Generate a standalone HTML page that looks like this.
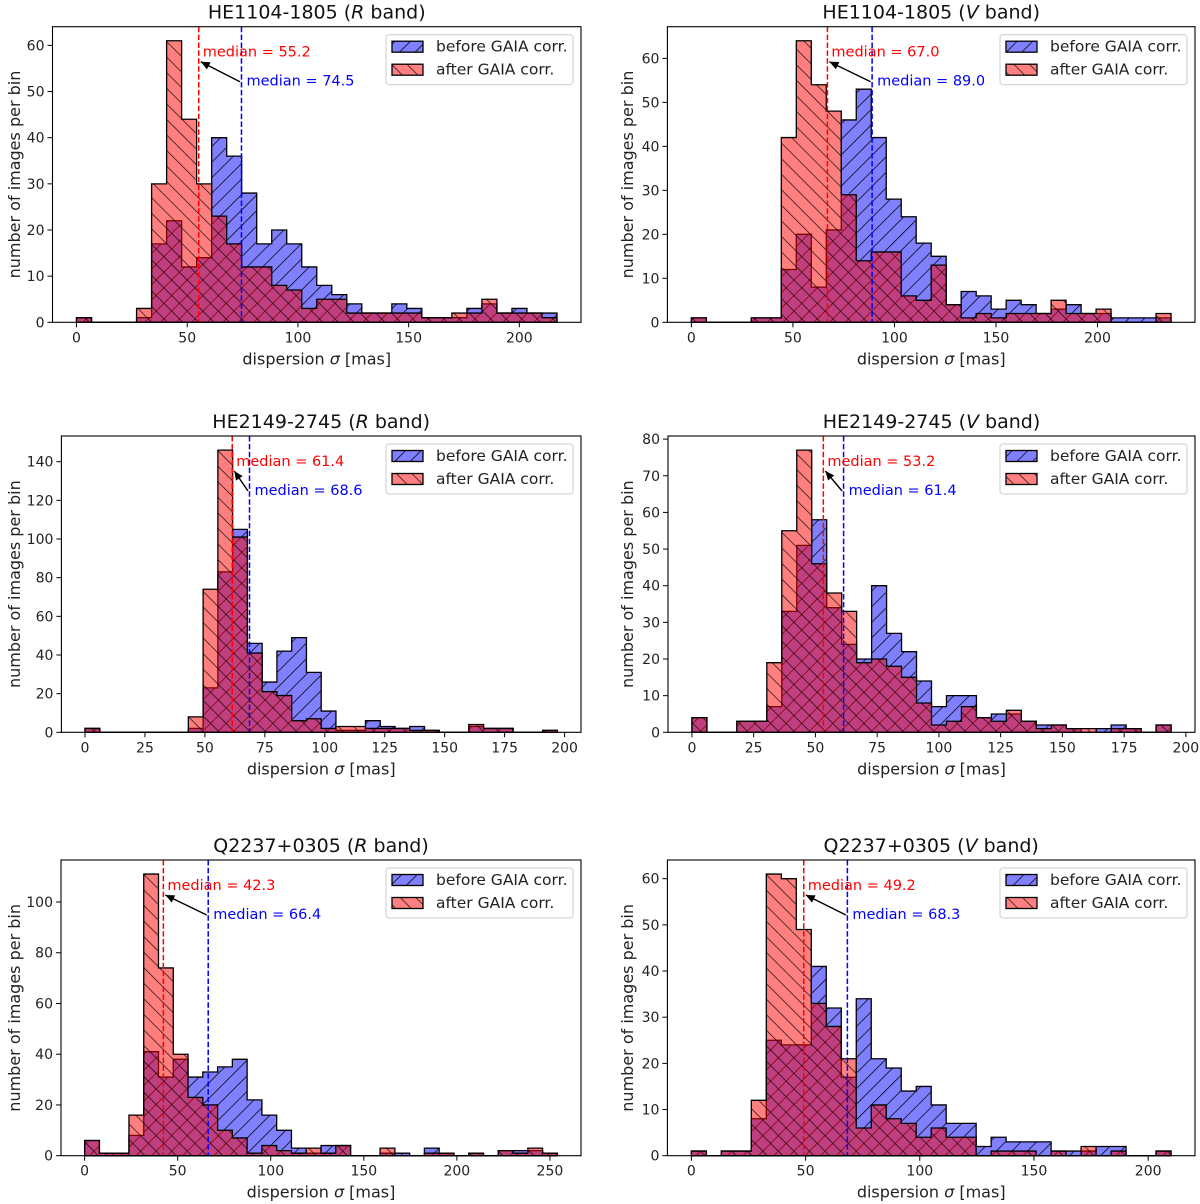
<!DOCTYPE html>
<html><head><meta charset="utf-8">
<style>
html,body{margin:0;padding:0;background:#fff;}
svg{display:block;font-family:"DejaVu Sans","Liberation Sans",sans-serif;}
</style></head>
<body>
<svg id="fig" width="1200" height="1204" viewBox="0 0 1200 1204" xmlns="http://www.w3.org/2000/svg">
<defs>
<pattern id="hatchF" patternUnits="userSpaceOnUse" width="11" height="11" patternTransform="rotate(45)">
<line x1="0" y1="0" x2="0" y2="11" stroke="#000" stroke-width="1.5"/>
</pattern>
<pattern id="hatchB" patternUnits="userSpaceOnUse" width="11" height="11" patternTransform="rotate(-45)">
<line x1="0" y1="0" x2="0" y2="11" stroke="#000" stroke-width="1.5" stroke-opacity="0.85"/>
</pattern>
</defs>
</svg>
<script>
// ---- data ----
const titles = ["HE1104-1805", "HE1104-1805", "HE2149-2745", "HE2149-2745", "Q2237+0305", "Q2237+0305"];
const bands = ["R", "V", "R", "V", "R", "V"];
const rangeMax = [217, 236.2, 197, 194, 254, 210];
const before1 = [1,0,0,0,1,17,22,12,14,40,36,28,17,20,17,12,8,6,4,2,2,4,3,1,1,1,3,4,2,3,2,2];
const after1  = [1,0,0,0,3,30,61,44,30,23,17,12,12,8,7,3,5,5,2,2,2,2,2,1,1,2,2,5,2,2,2,1];
const before2 = [1,0,0,0,1,1,12,20,8,21,46,53,42,28,24,18,15,4,7,6,3,5,4,2,3,4,2,2,1,1,1,1];
const after2  = [1,0,0,0,1,1,42,64,54,48,29,14,16,16,6,5,13,4,1,2,1,2,2,2,5,2,2,3,0,0,0,2];
const before3 = [2,0,0,0,0,0,0,2,23,83,105,46,26,42,49,31,11,1,1,6,3,2,3,1,0,0,3,2,2,0,0,1];
const after3  = [2,0,0,0,0,0,0,8,74,146,101,41,21,19,6,7,2,3,3,2,2,2,1,1,0,0,4,2,2,0,0,1];
const before4 = [4,0,0,3,3,7,33,51,58,34,24,20,40,27,22,14,7,10,10,4,5,5,3,2,2,1,0,1,2,1,0,2];
const after4  = [4,0,0,3,3,19,55,77,46,38,33,19,20,18,15,8,2,3,7,4,3,6,3,1,2,1,1,0,1,1,0,2];
const before5 = [6,1,1,8,41,31,38,31,33,35,38,22,16,10,3,1,4,4,0,0,1,1,0,3,1,0,1,0,2,2,2,1];
const after5  = [6,1,1,16,111,74,40,23,20,10,7,1,4,2,1,3,1,4,0,0,3,0,0,1,1,0,1,0,2,1,3,1];
const before6 = [1,0,1,1,8,25,24,24,41,32,17,34,21,19,14,15,11,7,7,2,4,3,3,3,1,1,1,2,2,0,0,1];
const after6  = [1,0,1,1,12,61,60,49,33,28,21,6,11,8,7,4,6,4,4,0,1,1,1,0,1,0,2,0,1,0,0,1];
const medianAfter  = [55.2, 67.0, 61.4, 53.2, 42.3, 49.2];
const medianBefore = [74.5, 89.0, 68.6, 61.4, 66.4, 68.3];
const xTicks1 = [0,50,100,150,200];
const xTicks2 = [0,50,100,150,200];
const xTicks3 = [0,25,50,75,100,125,150,175,200];
const xTicks4 = [0,25,50,75,100,125,150,175,200];
const xTicks5 = [0,50,100,150,200,250];
const xTicks6 = [0,50,100,150,200];
const yTicks1 = [0,10,20,30,40,50,60];
const yTicks2 = [0,10,20,30,40,50,60];
const yTicks3 = [0,20,40,60,80,100,120,140];
const yTicks4 = [0,10,20,30,40,50,60,70,80];
const yTicks5 = [0,20,40,60,80,100];
const yTicks6 = [0,10,20,30,40,50,60];

const befores = [before1,before2,before3,before4,before5,before6];
const afters = [after1,after2,after3,after4,after5,after6];
const xTicksAll = [xTicks1,xTicks2,xTicks3,xTicks4,xTicks5,xTicks6];
const yTicksAll = [yTicks1,yTicks2,yTicks3,yTicks4,yTicks5,yTicks6];

// layout (pixels)
const frameL = [52.5, 667.4, 61.4, 668, 61, 667.4];
const frameR = [581, 1195, 581, 1195, 581, 1195];
const frameT = [26.7, 26.7, 436, 436, 860, 860];
const frameB = [322.3, 322.3, 732.3, 732.3, 1155.7, 1155.7];
const ylabX = [14, 627, 14, 627, 14, 627];

const NS = "http://www.w3.org/2000/svg";
const svg = document.getElementById('fig');
function mk(tag, attrs, parent){
  const e = document.createElementNS(NS, tag);
  for (const k in attrs) e.setAttribute(k, attrs[k]);
  (parent||svg).appendChild(e);
  return e;
}

for (let p = 0; p < 6; p++) {
  const before = befores[p], after = afters[p];
  const R = rangeMax[p], nb = before.length, bw = R / nb;
  const L = frameL[p], Rr = frameR[p], T = frameT[p], B = frameB[p];
  const xmin = -0.05*R, xmax = 1.05*R;
  const ymax = 1.05*Math.max(Math.max(...before), Math.max(...after));
  const X = v => L + (v - xmin) / (xmax - xmin) * (Rr - L);
  const Y = v => B - v / ymax * (B - T);

  const g = mk('g', {});
  
  

  function stepPath(arr){
    let d = 'M' + X(0) + ',' + Y(0);
    for (let i = 0; i < nb; i++) {
      d += ' L' + X(i*bw) + ',' + Y(arr[i]) + ' L' + X((i+1)*bw) + ',' + Y(arr[i]);
    }
    d += ' L' + X(R) + ',' + Y(0) + ' Z';
    return d;
  }
  const dB = stepPath(before);
  const bf = mk('path', {d: dB, fill: '#8080ff', stroke: 'none'}, g);
  
  
  mk('path', {d: dB, fill: 'url(#hatchF)', stroke: 'none'}, g);
  mk('path', {d: dB, fill: 'none', stroke: '#000', 'stroke-width': 1.3, 'stroke-linejoin': 'miter'}, g);
  const dA = stepPath(after);
  const af = mk('path', {d: dA, fill: 'rgba(255,0,0,0.5)', stroke: 'none'}, g);
  
  
  mk('path', {d: dA, fill: 'url(#hatchB)', stroke: 'none'}, g);
  mk('path', {d: dA, fill: 'none', stroke: '#000', 'stroke-width': 1.3}, g);

  const xr = X(medianAfter[p]), xb = X(medianBefore[p]);
  const ml1 = mk('line', {x1: xr, x2: xr, y1: T, y2: B, stroke: '#ff0000', 'stroke-width': 1.5, 'stroke-dasharray': '5.5,2.4'}, g);
  
  
  const ml2 = mk('line', {x1: xb, x2: xb, y1: T, y2: B, stroke: '#0000ff', 'stroke-width': 1.5, 'stroke-dasharray': '5.5,2.4'}, g);
  
  
  const t1 = mk('text', {x: xr + 4, y: T + 30, fill: '#ff0000', 'font-size': 14.5}, g);
  t1.textContent = 'median = ' + medianAfter[p].toFixed(1);
  
  
  const t2 = mk('text', {x: xb + 5, y: T + 59, fill: '#0000ff', 'font-size': 14.5}, g);
  t2.textContent = 'median = ' + medianBefore[p].toFixed(1);
  
  
  const ax1 = xb - 1.5, ay1 = T + 55, ax2 = xr + 2, ay2 = T + 35;
  const ar = mk('line', {x1: ax1, y1: ay1, x2: ax2, y2: ay2, stroke: '#000', 'stroke-width': 1.4}, g);
  
  
  const ang = Math.atan2(ay2 - ay1, ax2 - ax1);
  const hl = 9, hw = 4;
  const bx = ax2 - hl*Math.cos(ang), by = ay2 - hl*Math.sin(ang);
  mk('polygon', {points: ax2+','+ay2+' '+(bx - hw*Math.sin(ang))+','+(by + hw*Math.cos(ang))+' '+(bx + hw*Math.sin(ang))+','+(by - hw*Math.cos(ang)), fill: '#000'}, g);

  const fr = mk('rect', {x: L, y: T, width: Rr - L, height: B - T, fill: 'none', stroke: '#000', 'stroke-width': 1.1}, g);
  
  

  xTicksAll[p].forEach(v => {
    const x = X(v);
    mk('line', {x1: x, x2: x, y1: B, y2: B + 5, stroke: '#000', 'stroke-width': 1}, g);
    const t = mk('text', {x: x, y: B + 20, 'text-anchor': 'middle', 'font-size': 14, fill: '#222'}, g);
    t.textContent = v;
    
    
  });
  yTicksAll[p].forEach(v => {
    const y = Y(v);
    mk('line', {x1: L - 5, x2: L, y1: y, y2: y, stroke: '#000', 'stroke-width': 1}, g);
    const t = mk('text', {x: L - 8, y: y + 5, 'text-anchor': 'end', 'font-size': 14, fill: '#222'}, g);
    t.textContent = v;
    
    
  });

  const xl = mk('text', {x: (L + Rr)/2, y: B + 42, 'text-anchor': 'middle', 'font-size': 16, fill: '#222'}, g);
  xl.innerHTML = 'dispersion <tspan font-style="italic">σ</tspan> [mas]';
  
  
  const yc = (T + B)/2;
  const yl = mk('text', {x: ylabX[p] + 6, y: yc, 'text-anchor': 'middle', 'font-size': 16, fill: '#222', transform: 'rotate(-90 ' + (ylabX[p] + 6) + ' ' + yc + ')'}, g);
  yl.textContent = 'number of images per bin';
  
  

  const tt = mk('text', {x: (L + Rr)/2, y: T - 8, 'text-anchor': 'middle', 'font-size': 19, fill: '#111'}, g);
  tt.innerHTML = titles[p] + ' (<tspan font-style="italic">' + bands[p] + '</tspan> band)';
  
  

  const lg = mk('g', {}, g);
  
  
  const lx = Rr - 8 - 187, ly = T + 8;
  mk('rect', {x: lx, y: ly, width: 187, height: 50, rx: 3, fill: '#fff', 'fill-opacity': 0.8, stroke: '#ccc', 'stroke-width': 1}, lg);
  const e1 = mk('g', {}, lg);
  
  
  mk('rect', {x: lx + 6, y: ly + 6.5, width: 31, height: 11, fill: '#8080ff'}, e1);
  mk('rect', {x: lx + 6, y: ly + 6.5, width: 31, height: 11, fill: 'url(#hatchF)', stroke: '#000', 'stroke-width': 1.3}, e1);
  const lt1 = mk('text', {x: lx + 50, y: ly + 17, 'font-size': 15.5, fill: '#222'}, e1);
  lt1.textContent = 'before GAIA corr.';
  const e2 = mk('g', {}, lg);
  
  
  mk('rect', {x: lx + 6, y: ly + 29.5, width: 31, height: 11, fill: '#ff8080'}, e2);
  mk('rect', {x: lx + 6, y: ly + 29.5, width: 31, height: 11, fill: 'url(#hatchB)', stroke: '#000', 'stroke-width': 1.3}, e2);
  const lt2 = mk('text', {x: lx + 50, y: ly + 40, 'font-size': 15.5, fill: '#222'}, e2);
  lt2.textContent = 'after GAIA corr.';
}
</script>
</body></html>
